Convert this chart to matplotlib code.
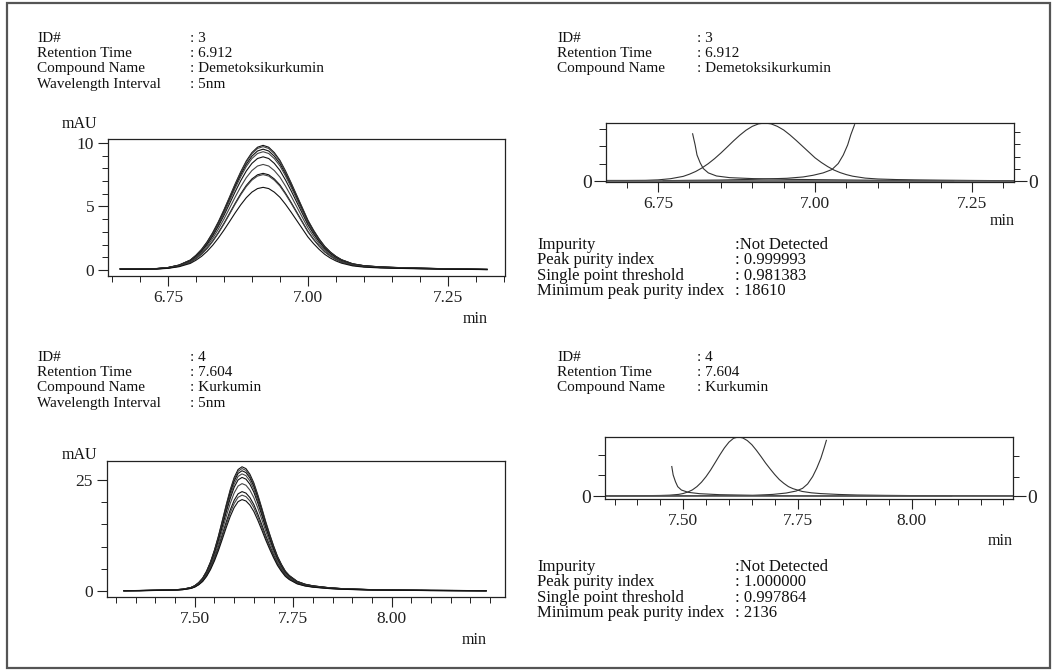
import numpy as np
import matplotlib.pyplot as plt
from matplotlib.ticker import MultipleLocator, FixedLocator, FixedFormatter
from matplotlib.patches import Rectangle

W, H = 1053, 670
plt.rcParams['font.family'] = ['Liberation Serif', 'DejaVu Serif']

# --- Demetoksikurkumin (ID 3): normalised peak shape
dmc_t = [6.665, 6.70, 6.73, 6.75, 6.77, 6.79, 6.80, 6.81, 6.82, 6.83, 6.84, 6.85,
         6.86, 6.87, 6.88, 6.89, 6.90, 6.91, 6.92, 6.93, 6.94, 6.95, 6.96, 6.97,
         6.98, 6.99, 7.00, 7.01, 7.02, 7.03, 7.04, 7.05, 7.06, 7.08, 7.10, 7.13,
         7.16, 7.20, 7.25, 7.32]
dmc_shape = [0.010, 0.010, 0.012, 0.020, 0.040, 0.080, 0.118, 0.165, 0.226, 0.300,
             0.386, 0.482, 0.585, 0.690, 0.788, 0.875, 0.942, 0.985, 1.000, 0.985,
             0.942, 0.880, 0.795, 0.700, 0.600, 0.500, 0.400, 0.320, 0.250, 0.190,
             0.145, 0.110, 0.083, 0.050, 0.035, 0.025, 0.020, 0.015, 0.010, 0.005]
# peak heights (mAU) of the overlaid wavelength traces
dmc_heights = [9.8, 9.7, 9.5, 9.3, 8.9, 8.3, 7.6, 7.5, 6.5]

# purity curves (fraction of panel height)
dmc_pl_t = [6.805, 6.809, 6.812, 6.817, 6.822, 6.830, 6.843, 6.864, 6.902, 6.955,
            7.008, 7.061, 7.114, 7.168, 7.221]
dmc_pl_y = [0.814, 0.622, 0.448, 0.314, 0.215, 0.140, 0.087, 0.058, 0.041, 0.029,
            0.023, 0.017, 0.012, 0.006, 0.006]
dmc_pr_t = [6.758, 6.795, 6.848, 6.902, 6.955, 6.981, 6.997, 7.013, 7.027, 7.037,
            7.045, 7.052, 7.057, 7.063]
dmc_pr_y = [0.006, 0.012, 0.017, 0.029, 0.047, 0.070, 0.099, 0.140, 0.198, 0.302,
            0.448, 0.622, 0.797, 0.971]

# --- Kurkumin (ID 4)
kur_t = [7.32, 7.36, 7.40, 7.43, 7.45, 7.47, 7.49, 7.50, 7.51, 7.52, 7.53, 7.54,
         7.55, 7.56, 7.57, 7.58, 7.59, 7.60, 7.61, 7.62, 7.63, 7.64, 7.65, 7.66,
         7.67, 7.68, 7.69, 7.70, 7.71, 7.72, 7.73, 7.74, 7.76, 7.78, 7.80, 7.84,
         7.88, 7.94, 8.00, 8.10, 8.24]
kur_shape = [0.003, 0.004, 0.006, 0.008, 0.010, 0.015, 0.028, 0.043, 0.068, 0.104,
             0.160, 0.235, 0.330, 0.442, 0.568, 0.696, 0.815, 0.913, 0.978, 1.000,
             0.985, 0.940, 0.870, 0.775, 0.670, 0.560, 0.460, 0.365, 0.280, 0.215,
             0.160, 0.125, 0.078, 0.055, 0.042, 0.027, 0.018, 0.012, 0.008, 0.005,
             0.003]
kur_heights = [28.0, 27.6, 27.1, 26.4, 25.6, 24.2, 22.4, 21.6, 20.6]

kur_pl_t = [7.475, 7.478, 7.483, 7.488, 7.496, 7.511, 7.536, 7.580, 7.652, 7.725,
            7.797, 7.870, 7.942, 8.087]
kur_pl_y = [0.500, 0.358, 0.244, 0.159, 0.102, 0.063, 0.040, 0.023, 0.011, 0.006,
            0.003, 0.003, 0.002, 0.002]
kur_pr_t = [7.340, 7.435, 7.507, 7.580, 7.652, 7.696, 7.725, 7.747, 7.761, 7.772,
            7.783, 7.792, 7.801, 7.808, 7.813]
kur_pr_y = [0.002, 0.003, 0.006, 0.010, 0.011, 0.028, 0.051, 0.085, 0.131, 0.205,
            0.330, 0.472, 0.642, 0.813, 0.943]

head_labels = ['ID#', 'Retention Time', 'Compound Name', 'Wavelength Interval']
dmc_info = [': 3', ': 6.912', ': Demetoksikurkumin', ': 5nm']
kur_info = [': 4', ': 7.604', ': Kurkumin', ': 5nm']
pur_labels = ['Impurity', 'Peak purity index', 'Single point threshold',
              'Minimum peak purity index']
dmc_pur = [':Not Detected', ': 0.999993', ': 0.981383', ': 18610']
kur_pur = [':Not Detected', ': 1.000000', ': 0.997864', ': 2136']

fig = plt.figure(figsize=(W / 100, H / 100), dpi=100)


def box(l, t, r, b):
    return fig.add_axes([l / W, 1 - b / H, (r - l) / W, (b - t) / H])


def txt(x, y, s, size=11.5):
    fig.text(x / W, 1 - y / H, s, fontsize=size, va='center', ha='left', color='#111')


def block(x, y_top, lines, size=11, ls=1.22):
    fig.text(x / W, 1 - y_top / H, '\n'.join(lines), fontsize=size, va='top',
             ha='left', color='#111', linespacing=ls)


def style(ax, xmaj):
    for s in ax.spines.values():
        s.set_linewidth(0.9)
        s.set_color('#222')
    ax.xaxis.set_major_locator(FixedLocator(xmaj))
    ax.xaxis.set_major_formatter(FixedFormatter(['%.2f' % v for v in xmaj]))
    ax.xaxis.set_minor_locator(MultipleLocator(0.05))
    ax.tick_params(which='major', direction='out', length=7, width=0.8,
                   labelsize=12.5, pad=3, colors='#222')
    ax.tick_params(which='minor', direction='out', length=4, width=0.7, colors='#222')


# outer frame
fig.patches.append(Rectangle((7 / W, 2 / H), 1043 / W, 665 / H, transform=fig.transFigure,
                             fill=False, ec='#555', lw=1.6))

# ---------- top-left: chromatograms ID 3
block(37, 32, head_labels)
block(190, 32, dmc_info)
ax1 = box(108, 139, 505, 276)
for k, h in enumerate(dmc_heights):
    ax1.plot(dmc_t, np.array(dmc_shape) * h, color='#111' if k % 2 == 0 else '#444', lw=0.8)
ax1.set_xlim(6.643, 7.352)
ax1.set_ylim(-0.47, 10.3)
style(ax1, [6.75, 7.00, 7.25])
ax1.yaxis.set_major_locator(FixedLocator([0, 5, 10]))
ax1.yaxis.set_minor_locator(MultipleLocator(1))
txt(62, 124, 'mAU')
txt(463, 319, 'min')

# ---------- bottom-left: chromatograms ID 4
block(37, 351, head_labels)
block(190, 351, kur_info)
ax3 = box(107, 461, 505, 597)
for k, h in enumerate(kur_heights):
    ax3.plot(kur_t, np.array(kur_shape) * h, color='#111' if k % 2 == 0 else '#444', lw=0.8)
ax3.set_xlim(7.277, 8.288)
ax3.set_ylim(-1.35, 29.3)
style(ax3, [7.50, 7.75, 8.00])
ax3.yaxis.set_major_locator(FixedLocator([0, 25]))
ax3.yaxis.set_minor_locator(MultipleLocator(5))
txt(62, 455, 'mAU')
txt(462, 640, 'min')


def purity_panel(l, t, r, b, xlim, ylim, xmaj, t0, shape, pl_t, pl_y, pr_t, pr_y,
                 lticks, rticks):
    ax = box(l, t, r, b)
    ax.plot(t0, shape, color='#333', lw=0.8)
    ax.plot(pl_t, pl_y, color='#333', lw=0.8)
    ax.plot(pr_t, pr_y, color='#333', lw=0.8)
    ax.axhline(0, color='#555', lw=1.2)
    ax.set_xlim(*xlim)
    ax.set_ylim(*ylim)
    style(ax, xmaj)
    ax.yaxis.set_major_locator(FixedLocator([0]))
    ax.yaxis.set_minor_locator(FixedLocator(lticks))
    ax.tick_params(axis='y', which='major', length=9, labelsize=14, pad=1)
    ax.tick_params(axis='y', which='minor', length=5)
    tw = ax.twinx()
    tw.set_ylim(*ylim)
    tw.yaxis.set_major_locator(FixedLocator([0]))
    tw.yaxis.set_minor_locator(FixedLocator(rticks))
    tw.tick_params(which='major', direction='out', length=9, width=0.8, labelsize=14,
                   pad=1, colors='#222')
    tw.tick_params(which='minor', direction='out', length=4, width=0.7, colors='#222')
    for s in tw.spines.values():
        s.set_visible(False)
    return ax


# ---------- top-right: peak purity ID 3
block(557, 32, head_labels[:3])
block(697, 32, dmc_info[:3])
purity_panel(606, 123, 1014, 182, (6.667, 7.317), (-0.017, 1.0), [6.75, 7.00, 7.25],
             dmc_t, dmc_shape, dmc_pl_t, dmc_pl_y, dmc_pr_t, dmc_pr_y,
             [0.3, 0.6, 0.9], [0.21, 0.42, 0.63, 0.84])
txt(990, 221, 'min')
block(537, 237, pur_labels, size=12, ls=0.94)
block(735, 237, dmc_pur, size=12, ls=0.94)

# ---------- bottom-right: peak purity ID 4
block(557, 351, head_labels[:3])
block(697, 351, kur_info[:3])
purity_panel(605, 437, 1013, 499, (7.329, 8.221), (-0.05, 1.0), [7.50, 7.75, 8.00],
             kur_t, kur_shape, kur_pl_t, kur_pl_y, kur_pr_t, kur_pr_y,
             [0.35, 0.70], [0.33, 0.67])
txt(988, 541, 'min')
block(537, 559, pur_labels, size=12, ls=0.94)
block(735, 559, kur_pur, size=12, ls=0.94)

fig.savefig('out.png', dpi=100)
